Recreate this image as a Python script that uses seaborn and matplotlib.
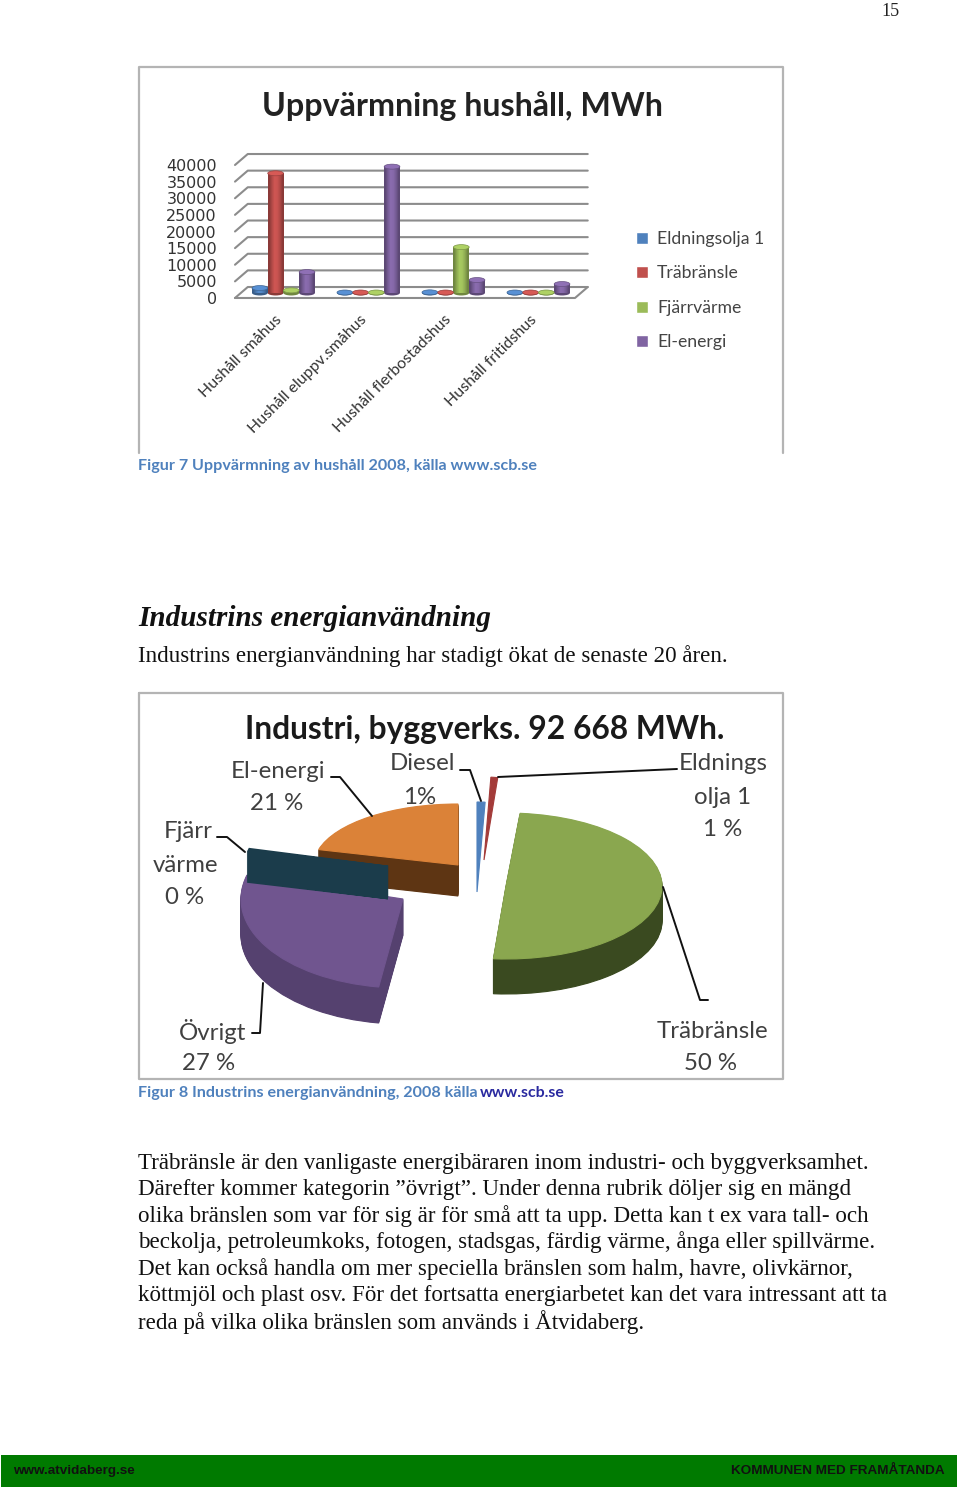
import numpy as np
import pandas as pd
import matplotlib
matplotlib.use("Agg")
import matplotlib.pyplot as plt
from matplotlib.patches import Ellipse
from matplotlib.transforms import Affine2D, ScaledTranslation
from matplotlib.colors import to_rgb
import seaborn as sns

# bar chart data
categories = ["Hushåll småhus", "Hushåll eluppv.småhus", "Hushåll flerbostadshus", "Hushåll fritidshus"]
series_names = ["Eldningsolja 1", "Träbränsle", "Fjärrvärme", "El-energi"]
eldningsolja = [1500, 150, 200, 150]
trabransle = [36000, 150, 150, 150]
fjarrvarme = [800, 150, 13800, 150]
el_energi = [6300, 38000, 3900, 2700]
bar_colors = ["#4f81bd", "#c0504d", "#9bbb59", "#8064a2"]
y_ticks = [0, 5000, 10000, 15000, 20000, 25000, 30000, 35000, 40000]

# pie chart data
pie_names = ["Diesel", "Eldningsolja 1", "Träbränsle", "Övrigt", "Fjärrvärme", "El-energi"]
pie_values = [1, 1, 50, 27, 0.3, 21]

body_lines = [
    "Träbränsle är den vanligaste energibäraren inom industri- och byggverksamhet.",
    "Därefter kommer kategorin ”övrigt”. Under denna rubrik döljer sig en mängd",
    "olika bränslen som var för sig är för små att ta upp. Detta kan t ex vara tall- och",
    "beckolja, petroleumkoks, fotogen, stadsgas, färdig värme, ånga eller spillvärme.",
    "Det kan också handla om mer speciella bränslen som halm, havre, olivkärnor,",
    "köttmjöl och plast osv. För det fortsatta energiarbetet kan det vara intressant att ta",
    "reda på vilka olika bränslen som används i Åtvidaberg.",
]
body_y = [1163, 1189, 1216, 1242, 1269, 1295, 1322]

sns.set_style("white")
plt.rcParams["font.family"] = "Lato"

W, H = 960, 1494
fig = plt.figure(figsize=(W / 100, H / 100), dpi=100, facecolor="white")


def px_axes(x0, y0, x1, y1):
    return fig.add_axes([x0 / W, 1 - y1 / H, (x1 - x0) / W, (y1 - y0) / H])


# whole page in pixel coordinates
page = fig.add_axes([0, 0, 1, 1])
page.set_xlim(0, W)
page.set_ylim(H, 0)
page.axis("off")

frame = "#b4b4b4"
page.plot([139, 139, 783, 783], [453, 67, 67, 453], color=frame, lw=1.6)
page.plot([139, 139, 783, 783, 139], [693, 1079, 1079, 693, 693], color=frame, lw=1.6)
page.axhspan(1455, 1487, xmin=1 / W, xmax=957 / W, color="#007a00", lw=0)

serif = "Liberation Serif"
page.text(890, 11, "15", family=serif, fontsize=13, ha="center", va="center", color="#222222")
page.text(462, 106, "Uppvärmning hushåll, MWh", fontsize=23.2, weight="bold", ha="center", va="center", color="#222222")
page.text(138, 466, "Figur 7 Uppvärmning av hushåll 2008, källa www.scb.se", fontsize=11.6, weight="bold",
          va="center", color="#4f81bd")
page.text(138, 619, "Industrins energianvändning", family=serif, fontsize=21, weight="bold", style="italic",
          va="center", color="#111111")
page.text(138, 656, "Industrins energianvändning har stadigt ökat de senaste 20 åren.", family=serif,
          fontsize=16.6, va="center", color="#111111")
page.text(138, 1093, "Figur 8 Industrins energianvändning, 2008 källa", fontsize=11.6, weight="bold",
          va="center", color="#4f81bd")
page.text(480, 1093, "www.scb.se", fontsize=11.4, weight="bold", va="center", color="#2a2aa0")
for line, y in zip(body_lines, body_y):
    page.text(138, y, line, family=serif, fontsize=16.6, va="center", color="#111111")
page.text(13, 1471, "www.atvidaberg.se", family="Liberation Sans", fontsize=9.7, weight="bold", va="center", color="#111111")
page.text(945, 1471, "KOMMUNEN MED FRAMÅTANDA", family="Liberation Sans", fontsize=9.7, weight="bold",
          ha="right", va="center", color="#111111")

# bars
ax = px_axes(235, 160, 575, 293)
ax.patch.set_alpha(0)
df = pd.DataFrame({
    "kategori": categories * 4,
    "serie": [s for s in series_names for _ in categories],
    "MWh": eldningsolja + trabransle + fjarrvarme + el_energi,
})
sns.barplot(data=df, x="kategori", y="MWh", hue="serie", hue_order=series_names, palette=bar_colors,
            width=0.74, gap=0, saturation=1, ax=ax)

xmin, xmax = -0.57, 3.43
dx, front, back = 0.15, -1500, 1800
grid = "#8c8c8c"
for v in y_ticks:
    ax.plot([xmin, xmin + dx, xmax + dx], [v + front, v + back, v + back], color=grid, lw=1.5, zorder=1, clip_on=False)
ax.plot([xmin, xmax, xmax + dx], [front, front, back], color=grid, lw=1.5, zorder=1, clip_on=False)

profile = np.array([0.72, 0.92, 1.08, 1.05, 0.92, 0.72])
for container, col in zip(ax.containers, bar_colors):
    rgb = np.array(to_rgb(col))
    for bar in container:
        x, w, h = bar.get_x(), bar.get_width(), bar.get_height()
        bar.set_visible(False)
        ax.add_patch(Ellipse((x + w / 2, 0), w, 1500, fc=rgb * 0.72, ec="none", zorder=3, clip_on=False))
        strip = np.clip(profile[:, None] * rgb, 0, 1)[None, :, :]
        ax.imshow(strip, extent=[x, x + w, 0, h], aspect="auto", interpolation="bilinear", zorder=3.1, clip_on=False)
        ax.add_patch(Ellipse((x + w / 2, h), w, 1500, fc=np.clip(rgb * 1.12, 0, 1), ec=rgb * 0.8, lw=0.5, zorder=3.2, clip_on=False))

ax.set_xlim(xmin, xmax)
ax.set_ylim(0, 40000)
ax.set_xlabel("")
ax.set_ylabel("")
sns.despine(ax=ax, left=True, bottom=True)
ax.set_yticks(y_ticks)
ax.set_yticklabels([str(v) for v in y_ticks], family="DejaVu Sans", fontsize=11.5, color="#333333")
ax.tick_params(axis="y", length=0, pad=13)
ax.tick_params(axis="x", length=0, pad=12)
ax.set_xticks(range(len(categories)))
ax.set_xticklabels(categories, rotation=45, ha="right", rotation_mode="anchor", fontsize=11.5, color="#333333")
# tick labels sit on the front edge of the 3d box
y_shift = ScaledTranslation(0, -5 / 100, fig.dpi_scale_trans)
for t in ax.get_yticklabels():
    t.set_transform(t.get_transform() + y_shift)
x_shift = ScaledTranslation(-9 / 100, -3 / 100, fig.dpi_scale_trans)
for t in ax.get_xticklabels():
    t.set_transform(t.get_transform() + x_shift)
handles, labels = ax.get_legend_handles_labels()
ax.legend(handles, labels, loc="upper left", bbox_to_anchor=(620 / W, 1 - 215 / H), bbox_transform=fig.transFigure,
          frameon=False, fontsize=12.7, labelcolor="#444444", labelspacing=1.05, handlelength=0.7, handleheight=0.7,
          handletextpad=0.5)

# pie, every slice pulled out to its own place
pie = px_axes(139, 693, 783, 1079)
pie.patch.set_alpha(0)


def draw_slice(idx, cx, cy, rx, ry, depth, top, side, turn=0, lw=0.8):
    before = sum(pie_values[:idx]) / sum(pie_values) * 360
    start = 90 - before + turn
    rest = sum(pie_values) - pie_values[idx]
    for d in list(range(depth, 0, -1)) + [0]:
        col = side if d else top
        wedges, _ = pie.pie([pie_values[idx], rest], startangle=start, counterclock=False, colors=[col, "none"],
                            wedgeprops={"edgecolor": col, "linewidth": lw})
        wedges[1].remove()
        wedges[0].set_transform(Affine2D().scale(rx, -ry).translate(cx, cy + d) + pie.transData)


draw_slice(5, 458, 865, 144, 61, 31, "#db8238", "#5e3513")
draw_slice(3, 403, 899, 162, 89, 36, "#70558f", "#55416f", turn=-2)
draw_slice(4, 388, 867, 143, 70, 31, "#1b3c4b", "#1b3c4b", lw=2)
draw_slice(2, 506, 886, 156, 73, 35, "#8aa74f", "#3a4a20", turn=2)
draw_slice(0, 477, 892, 130, 90, 0, "#4f81bd", "#4f81bd")
draw_slice(1, 484, 860, 110, 83, 0, "#a33b39", "#a33b39")
pie.set_aspect("auto")
pie.set_xlim(139, 783)
pie.set_ylim(1079, 693)
pie.axis("off")

title_col = "#1a1a1a"
label_col = "#404040"
page.text(485, 729, "Industri, byggverks. 92 668 MWh.", fontsize=22.9, weight="bold", ha="center", va="center", color=title_col)
pie_labels = [
    ("El-energi", 278, 771), ("21 %", 277, 804), ("Diesel", 423, 764), ("1%", 420, 797),
    ("Fjärr", 188, 832), ("värme", 185, 865), ("0 %", 185, 897), ("Eldnings", 723, 764),
    ("olja 1", 723, 797), ("1 %", 723, 829), ("Övrigt", 213, 1032), ("27 %", 209, 1064),
    ("Träbränsle", 712, 1031), ("50 %", 711, 1064),
]
for s, x, y in pie_labels:
    page.text(x, y, s, fontsize=17.3, ha="center", va="center", color=label_col)

leaders = [
    ([460, 470, 481], [770, 770, 801]),
    ([677, 498], [769, 777]),
    ([331, 340, 372], [777, 777, 816]),
    ([217, 227, 245], [837, 837, 852]),
    ([252, 260, 263], [1033, 1033, 983]),
    ([663, 700, 708], [887, 1000, 1000]),
]
overlay = fig.add_axes([0, 0, 1, 1])
overlay.set_xlim(0, W)
overlay.set_ylim(H, 0)
overlay.axis("off")
for xs, ys in leaders:
    overlay.plot(xs, ys, color="#111111", lw=1.4)

fig.savefig("out.png", dpi=100)
